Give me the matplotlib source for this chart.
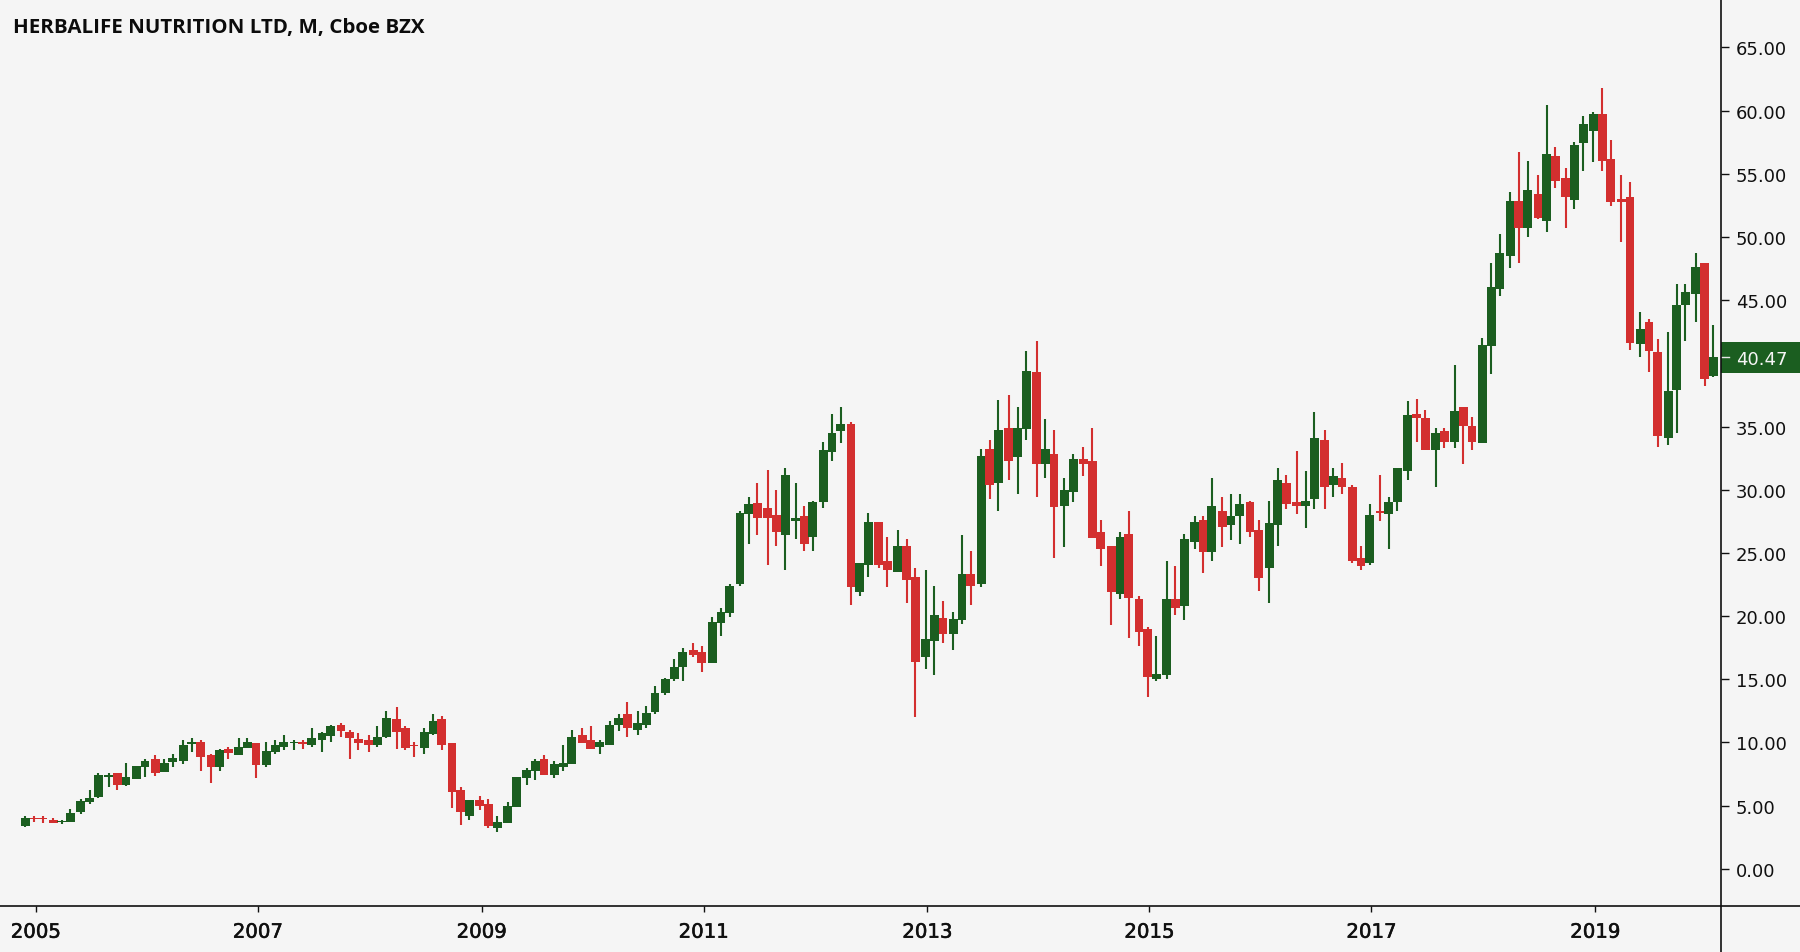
"""HLF monthly candles, TradingView look."""

import matplotlib

matplotlib.use("Agg")
import matplotlib.patheffects as pe  # noqa: E402
import matplotlib.pyplot as plt  # noqa: E402
import numpy as np  # noqa: E402
from matplotlib.lines import Line2D  # noqa: E402
from matplotlib.patches import Rectangle  # noqa: E402
from matplotlib.transforms import blended_transform_factory  # noqa: E402

# Monthly OHLC, Dec 2004 onwards
opens = [
    3.38, 4.01, 4.01, 3.85, 3.69, 3.67, 4.46, 5.30, 5.72, 7.25, 7.57, 6.67, 7.09, 8.07, 8.68, 7.65,
    8.44, 8.57, 9.84, 10.05, 8.97, 8.02, 9.49, 8.99, 9.55, 9.92, 8.18, 9.26, 9.68, 9.99, 10.05, 9.78,
    10.21, 10.52, 11.42, 10.86, 10.31, 10.18, 9.81, 10.47, 11.84, 11.15, 9.78, 9.55, 10.65, 11.84, 9.92, 6.22,
    4.19, 5.41, 5.12, 3.24, 3.64, 4.88, 7.20, 7.75, 8.68, 7.46, 8.02, 8.28, 10.60, 10.18, 9.65, 9.81,
    11.42, 12.24, 11.02, 11.42, 12.42, 13.92, 15.00, 16.01, 17.33, 17.19, 16.27, 19.44, 20.25, 22.55, 28.06, 28.98,
    28.59, 28.03, 26.42, 27.51, 27.90, 26.29, 29.01, 33.02, 34.65, 35.18, 21.89, 24.08, 27.48, 24.34, 23.52, 25.58,
    23.10, 16.80, 18.06, 19.83, 18.59, 19.70, 23.37, 22.57, 33.25, 30.54, 34.89, 32.59, 34.81, 39.29, 32.04, 32.83,
    28.74, 29.85, 32.44, 32.31, 26.66, 25.58, 21.73, 26.53, 21.33, 18.99, 15.03, 15.30, 21.33, 20.78, 25.87, 27.61,
    25.05, 28.32, 27.22, 27.90, 29.01, 26.82, 23.81, 27.24, 30.51, 29.01, 28.74, 29.30, 33.94, 30.41, 30.91, 30.22,
    24.60, 24.21, 28.32, 28.06, 29.01, 31.49, 36.00, 35.70, 33.12, 34.62, 33.81, 36.55, 35.05, 33.70, 41.40, 45.89,
    48.50, 52.87, 50.71, 53.43, 51.27, 56.43, 54.67, 52.90, 57.44, 58.39, 59.73, 56.17, 53.01, 53.16, 41.51, 43.28,
    40.93, 34.10, 37.92, 44.65, 45.49, 47.94, 39.03,
]
highs = [
    4.17, 4.17, 4.17, 4.01, 3.88, 4.72, 5.51, 6.20, 7.57, 7.57, 7.57, 8.41, 8.12, 8.68, 8.97, 8.68,
    9.10, 10.18, 10.34, 10.18, 9.10, 9.52, 9.65, 10.34, 10.34, 9.92, 10.05, 10.18, 10.60, 10.18, 10.18, 11.15,
    10.86, 11.42, 11.55, 11.00, 10.73, 10.60, 11.29, 12.53, 12.79, 11.29, 10.05, 11.13, 12.24, 12.10, 9.92, 6.49,
    5.41, 5.80, 5.54, 4.17, 5.27, 7.30, 7.99, 8.68, 8.97, 8.54, 9.78, 11.02, 11.15, 11.29, 10.18, 11.68,
    12.24, 13.19, 12.53, 12.92, 14.45, 15.14, 16.64, 17.46, 17.88, 17.62, 19.90, 20.62, 22.52, 28.30, 29.40, 30.51,
    31.59, 29.96, 31.72, 30.51, 28.72, 29.14, 33.81, 36.00, 36.55, 35.34, 24.21, 28.16, 27.48, 26.27, 26.82, 26.13,
    23.79, 23.63, 22.42, 21.18, 20.36, 26.40, 25.16, 33.25, 33.94, 37.10, 37.50, 36.55, 40.95, 41.77, 35.60, 34.76,
    30.93, 32.83, 33.39, 34.89, 27.64, 25.58, 26.66, 28.30, 21.60, 19.12, 18.43, 24.34, 23.95, 26.53, 27.90, 27.90,
    30.93, 29.40, 29.67, 29.67, 29.14, 27.64, 29.14, 31.72, 31.20, 33.10, 31.46, 36.16, 34.76, 31.72, 32.15, 30.35,
    25.55, 28.85, 31.17, 29.40, 31.72, 37.00, 37.20, 36.30, 34.92, 34.89, 39.85, 36.55, 35.73, 42.04, 47.94, 50.26,
    53.56, 56.72, 56.04, 54.93, 60.44, 57.12, 55.49, 57.54, 59.60, 59.89, 61.81, 57.67, 54.93, 54.38, 44.09, 43.54,
    41.90, 42.46, 46.28, 46.28, 48.76, 47.94, 43.01,
]
lows = [
    3.32, 3.74, 3.64, 3.61, 3.51, 3.67, 4.32, 5.17, 5.59, 6.51, 6.25, 6.54, 7.09, 7.23, 7.33, 7.65,
    8.04, 8.31, 9.26, 7.75, 6.80, 7.78, 8.70, 8.99, 9.55, 7.20, 8.02, 9.12, 9.41, 9.39, 9.52, 9.65,
    9.26, 10.07, 10.47, 8.73, 9.39, 9.26, 9.68, 10.34, 9.52, 9.39, 8.83, 9.12, 10.63, 9.39, 4.85, 3.48,
    3.90, 4.62, 3.22, 2.95, 3.64, 4.88, 6.67, 7.07, 7.46, 7.20, 7.75, 8.28, 9.94, 9.52, 9.12, 9.81,
    10.89, 10.47, 10.60, 11.15, 12.26, 13.77, 14.87, 14.87, 16.80, 15.56, 16.27, 18.46, 19.96, 22.42, 25.71, 26.42,
    24.08, 25.58, 23.68, 26.13, 25.18, 25.18, 28.59, 32.31, 33.68, 20.91, 21.62, 23.13, 23.81, 22.31, 23.52, 21.07,
    12.00, 15.85, 15.30, 17.91, 17.35, 19.41, 20.91, 22.28, 29.30, 28.35, 30.80, 29.69, 33.97, 29.43, 30.93, 24.63,
    25.45, 29.01, 31.09, 26.16, 23.95, 19.30, 21.33, 18.30, 17.62, 13.63, 14.90, 15.03, 20.09, 19.70, 25.32, 23.39,
    24.37, 25.45, 26.00, 25.74, 26.27, 22.02, 21.07, 25.58, 28.48, 28.09, 26.98, 28.48, 28.48, 29.46, 29.69, 24.21,
    23.68, 24.08, 27.51, 25.32, 28.35, 30.80, 33.75, 33.12, 30.25, 33.28, 33.28, 32.04, 33.15, 33.70, 39.16, 45.36,
    47.55, 47.97, 50.03, 51.40, 50.42, 53.85, 50.71, 52.22, 55.22, 55.91, 55.22, 52.48, 49.60, 41.06, 40.53, 39.29,
    33.39, 33.54, 34.49, 41.77, 43.28, 38.21, 38.90,
]
closes = [
    4.01, 3.96, 3.96, 3.64, 3.77, 4.43, 5.35, 5.64, 7.44, 7.44, 6.67, 7.30, 8.12, 8.54, 7.62, 8.39,
    8.81, 9.78, 10.05, 8.86, 8.02, 9.39, 9.15, 9.65, 10.05, 8.18, 9.36, 9.78, 10.05, 10.07, 9.84, 10.34,
    10.73, 11.29, 10.94, 10.36, 9.94, 9.81, 10.47, 11.97, 10.79, 9.55, 9.70, 10.86, 11.68, 9.81, 6.12, 4.46,
    5.41, 5.01, 3.38, 3.74, 4.98, 7.30, 7.86, 8.54, 7.46, 8.28, 8.41, 10.47, 9.94, 9.52, 10.05, 11.42,
    11.97, 11.15, 11.55, 12.37, 13.92, 15.00, 15.95, 17.19, 16.93, 16.27, 19.51, 20.36, 22.42, 28.16, 28.85, 27.77,
    27.77, 26.69, 31.17, 27.77, 25.74, 29.01, 33.12, 34.49, 35.18, 22.31, 24.21, 27.48, 24.08, 23.68, 25.58, 22.86,
    16.40, 18.17, 20.09, 18.59, 19.80, 23.37, 22.42, 32.70, 30.38, 34.76, 32.31, 34.89, 39.42, 32.04, 33.25, 28.61,
    29.96, 32.44, 32.04, 26.16, 25.32, 21.89, 26.27, 21.47, 18.75, 15.16, 15.43, 21.33, 20.65, 26.11, 27.48, 25.05,
    28.72, 27.08, 27.90, 28.85, 26.69, 23.00, 27.35, 30.78, 28.90, 28.74, 29.14, 34.07, 30.25, 31.07, 30.25, 24.34,
    23.95, 28.03, 28.19, 29.01, 31.72, 35.90, 35.70, 33.12, 34.49, 33.81, 36.26, 35.05, 33.81, 41.48, 46.02, 48.76,
    52.87, 50.71, 53.69, 51.53, 56.57, 54.40, 53.16, 57.28, 58.91, 59.73, 56.04, 52.77, 52.77, 41.61, 42.72, 40.95,
    34.23, 37.79, 44.62, 45.62, 47.65, 38.74, 40.47,
]

# 40.00 is hidden behind the last price tag in the source chart
price_ticks = [0, 5, 10, 15, 20, 25, 30, 35, 45, 50, 55, 60, 65]
year_labels = ["2005", "2007", "2009", "2011", "2013", "2015", "2017", "2019"]
year_bars = [1, 25, 49, 73, 97, 121, 145, 169]  # January bar of each labelled year

title = "HERBALIFE NUTRITION LTD, M, Cboe BZX"
last_price = closes[-1]

UP = "#1b5e20"
DOWN = "#d32f2f"
BG = "#f5f5f5"
INK = "#101010"

W, H = 1800, 953
AXIS_X, AXIS_Y = 1721, 906.5


def bar_slots(idx):
    # the source chart snaps bars to whole pixels, spacing alternates 5/6
    return np.round(np.asarray(idx) * 5.35 - 0.38)


fig = plt.figure(figsize=(W / 100, H / 100), dpi=100, facecolor=BG)
ax = fig.add_axes([0, 1 - AXIS_Y / H, AXIS_X / W, AXIS_Y / H], facecolor=BG)

o, h, l, c = map(np.array, (opens, highs, lows, closes))
x = bar_slots(np.arange(len(o)))
colors = np.where(c >= o, UP, DOWN)

ax.vlines(x, l, h, colors=colors, lw=1.5, zorder=2)
ax.bar(x, np.abs(c - o), bottom=np.minimum(o, c), width=5.1, color=colors, lw=0, zorder=3)

ax.set_xlim(-14.6, 977.5)
ax.set_ylim(-2.9, 68.83)

for s in ax.spines.values():
    s.set_visible(False)

ax.yaxis.tick_right()
ax.set_yticks(price_ticks)
ax.set_yticklabels([f"{p:.2f}" for p in price_ticks])
ax.tick_params(axis="y", length=5.8, width=1.0, color=INK, labelcolor=INK, labelsize=13, pad=5)
ax.set_xticks(bar_slots(year_bars) + 1)
ax.set_xticklabels(year_labels)
ax.tick_params(axis="x", length=4.4, width=1.0, color=INK, labelcolor=INK, labelsize=14.2, pad=8)
for t in ax.get_xticklabels():
    t.set_path_effects([pe.withStroke(linewidth=0.4, foreground=INK)])

# axis lines run through to the edges of the figure
fig.add_artist(Line2D([0, 1], [1 - AXIS_Y / H] * 2, color=INK, lw=1.2))
fig.add_artist(Line2D([AXIS_X / W] * 2, [0, 1], color=INK, lw=1.2))

# last price tag
tr = blended_transform_factory(ax.transAxes, ax.transData)
ax.add_patch(Rectangle((1, last_price - 1.27), (W - AXIS_X) / AXIS_X, 2.45, transform=tr,
                       facecolor=UP, edgecolor="none", clip_on=False, zorder=5))
ax.plot([1, 1 + 8 / AXIS_X], [last_price] * 2, transform=tr, color="#e8e8e8", lw=1.0,
        clip_on=False, zorder=6)
ax.annotate(f"{last_price:.2f}", xy=(1, last_price), xycoords=tr, xytext=(15, 0),
            textcoords="offset pixels", va="center_baseline", ha="left", fontsize=13,
            color="#f5f5f5", zorder=7, annotation_clip=False)

fig.text(13 / W, 1 - 28 / H, title, family="Open Sans", fontweight="bold", fontsize=14.75,
         color="#0c0c0c", va="center", ha="left")

fig.savefig("out.png", dpi=100, facecolor=BG)
plt.close(fig)
